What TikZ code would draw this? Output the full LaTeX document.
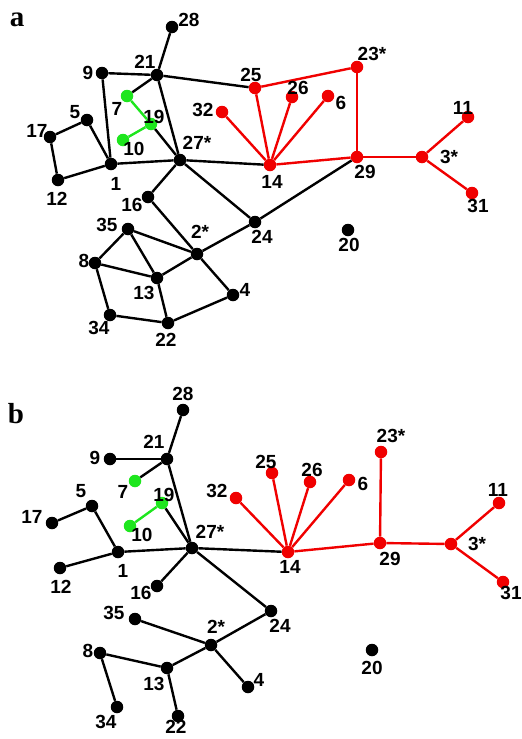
\documentclass[tikz,border=0pt]{standalone}
\usepackage{fontspec}
\setmainfont{Liberation Sans}
\newfontfamily\panelfont{Liberation Serif}
\definecolor{nodered}{RGB}{240,0,0}
\definecolor{nodegreen}{RGB}{30,230,30}
\tikzset{
  dot/.style={circle,fill=black,inner sep=0pt,minimum size=12.5pt},
  rdot/.style={dot,fill=nodered},
  gdot/.style={dot,fill=nodegreen},
  lbl/.style={inner sep=0pt,font=\fontsize{19}{19}\selectfont\bfseries},
  plbl/.style={inner sep=0pt,font=\panelfont\fontsize{29}{29}\selectfont\bfseries},
  bl/.style={draw=black,line width=2.4pt},
  rl/.style={draw=nodered,line width=2.4pt},
  gl/.style={draw=nodegreen,line width=2.4pt}
}
\begin{document}
\begin{tikzpicture}[x=1pt,y=-1pt]
\useasboundingbox (0,0) rectangle (522,739);
% ---------------- panel a ----------------
\node[plbl] (pa) at (17,20) {a};
\node[dot] (a28) at (172,27) {};
\node[dot] (a21) at (157,75) {};
\node[dot] (a9) at (102,73) {};
\node[gdot] (a7) at (127,96) {};
\node[gdot] (a19) at (151,124) {};
\node[gdot] (a10) at (123,140) {};
\node[dot] (a5) at (87,120) {};
\node[dot] (a17) at (50,137) {};
\node[dot] (a12) at (58,180) {};
\node[dot] (a1) at (111,164) {};
\node[dot] (a27) at (180,160) {};
\node[dot] (a16) at (148,197) {};
\node[dot] (a35) at (128,229) {};
\node[dot] (a8) at (95,263) {};
\node[dot] (a13) at (157,278) {};
\node[dot] (a2) at (197,254) {};
\node[dot] (a24) at (255,222) {};
\node[dot] (a4) at (233,295) {};
\node[dot] (a34) at (110,315) {};
\node[dot] (a22) at (168,323) {};
\node[dot] (a20) at (348,230) {};
\node[rdot] (a14) at (270,165) {};
\node[rdot] (a25) at (255,88) {};
\node[rdot] (a26) at (292,97) {};
\node[rdot] (a6) at (328,96) {};
\node[rdot] (a32) at (222,112) {};
\node[rdot] (a23) at (357,67) {};
\node[rdot] (a29) at (357,157) {};
\node[rdot] (a3) at (422,157) {};
\node[rdot] (a11) at (468,117) {};
\node[rdot] (a31) at (472,193) {};
% edges a
\draw[bl] (a28) -- (a21);
\draw[bl] (a21) -- (a9);
\draw[bl] (a21) -- (a7);
\draw[bl] (a21) -- (a27);
\draw[bl] (a21) -- (a25);
\draw[bl] (a9) -- (a1);
\draw[bl] (a19) -- (a27);
\draw[gl] (a7) -- (a19);
\draw[gl] (a19) -- (a10);
\draw[bl] (a5) -- (a17);
\draw[bl] (a17) -- (a12);
\draw[bl] (a12) -- (a1);
\draw[bl] (a1) -- (a5);
\draw[bl] (a1) -- (a27);
\draw[bl] (a27) -- (a14);
\draw[bl] (a27) -- (a16);
\draw[bl] (a27) -- (a24);
\draw[bl] (a16) -- (a2);
\draw[bl] (a2) -- (a24);
\draw[bl] (a24) -- (a29);
\draw[bl] (a2) -- (a35);
\draw[bl] (a2) -- (a13);
\draw[bl] (a2) -- (a4);
\draw[bl] (a35) -- (a8);
\draw[bl] (a35) -- (a13);
\draw[bl] (a8) -- (a13);
\draw[bl] (a8) -- (a34);
\draw[bl] (a34) -- (a22);
\draw[bl] (a22) -- (a13);
\draw[bl] (a22) -- (a4);
\draw[rl] (a25) -- (a23);
\draw[rl] (a23) -- (a29);
\draw[rl] (a14) -- (a25);
\draw[rl] (a14) -- (a26);
\draw[rl] (a14) -- (a6);
\draw[rl] (a14) -- (a32);
\draw[rl] (a14) -- (a29);
\draw[rl] (a29) -- (a3);
\draw[rl] (a3) -- (a11);
\draw[rl] (a3) -- (a31);
% labels a
\node[lbl] (la28) at (189,20) {28};
\node[lbl] (la21) at (145,62) {21};
\node[lbl] (la9) at (88,73) {9};
\node[lbl] (la7) at (117,109) {7};
\node[lbl] (la19) at (154,117) {19};
\node[lbl] (la10) at (134,149) {10};
\node[lbl] (la5) at (75,112) {5};
\node[lbl] (la17) at (37,131) {17};
\node[lbl] (la1) at (116,184) {1};
\node[lbl] (la12) at (57,199) {12};
\node[lbl] (la27) at (197,143) {27*};
\node[lbl] (la16) at (132,205) {16};
\node[lbl] (la35) at (107,225) {35};
\node[lbl] (la8) at (84,261) {8};
\node[lbl] (la13) at (144,293) {13};
\node[lbl] (la2) at (200,232) {2*};
\node[lbl] (la24) at (262,237) {24};
\node[lbl] (la4) at (245,290) {4};
\node[lbl] (la34) at (99,328) {34};
\node[lbl] (la22) at (166,340) {22};
\node[lbl] (la20) at (349,245) {20};
\node[lbl] (la14) at (272,182) {14};
\node[lbl] (la25) at (251,75) {25};
\node[lbl] (la26) at (298,88) {26};
\node[lbl] (la6) at (341,103) {6};
\node[lbl] (la32) at (203,110) {32};
\node[lbl] (la23) at (372,54) {23*};
\node[lbl] (la29) at (365,172) {29};
\node[lbl] (la3) at (449,157) {3*};
\node[lbl] (la11) at (463,108) {11};
\node[lbl] (la31) at (478,206) {31};
% ---------------- panel b ----------------
\node[plbl] (pb) at (16,414) {b};
\node[dot] (b28) at (183,410) {};
\node[dot] (b21) at (167,459) {};
\node[dot] (b9) at (110,459) {};
\node[gdot] (b7) at (135,481) {};
\node[gdot] (b19) at (162,503) {};
\node[gdot] (b10) at (130,526) {};
\node[dot] (b5) at (92,506) {};
\node[dot] (b17) at (52,523) {};
\node[dot] (b12) at (60,568) {};
\node[dot] (b1) at (118,552) {};
\node[dot] (b27) at (192,548) {};
\node[dot] (b16) at (157,586) {};
\node[dot] (b35) at (135,619) {};
\node[dot] (b8) at (100,653) {};
\node[dot] (b13) at (167,668) {};
\node[dot] (b2) at (211,645) {};
\node[dot] (b24) at (271,611) {};
\node[dot] (b4) at (248,687) {};
\node[dot] (b34) at (117,707) {};
\node[dot] (b22) at (178,716) {};
\node[dot] (b20) at (372,650) {};
\node[rdot] (b14) at (288,552) {};
\node[rdot] (b32) at (236,498) {};
\node[rdot] (b25) at (272,473) {};
\node[rdot] (b26) at (310,482) {};
\node[rdot] (b6) at (349,480) {};
\node[rdot] (b23) at (381,452) {};
\node[rdot] (b29) at (380,543) {};
\node[rdot] (b3) at (451,544) {};
\node[rdot] (b11) at (499,503) {};
\node[rdot] (b31) at (503,582) {};
% edges b
\draw[bl] (b28) -- (b21);
\draw[bl] (b21) -- (b9);
\draw[bl] (b21) -- (b7);
\draw[bl] (b21) -- (b27);
\draw[gl] (b19) -- (b10);
\draw[bl] (b19) -- (b27);
\draw[bl] (b5) -- (b17);
\draw[bl] (b5) -- (b1);
\draw[bl] (b1) -- (b12);
\draw[bl] (b1) -- (b27);
\draw[bl] (b27) -- (b14);
\draw[bl] (b27) -- (b16);
\draw[bl] (b27) -- (b24);
\draw[bl] (b24) -- (b2);
\draw[bl] (b2) -- (b35);
\draw[bl] (b2) -- (b13);
\draw[bl] (b2) -- (b4);
\draw[bl] (b8) -- (b13);
\draw[bl] (b8) -- (b34);
\draw[bl] (b13) -- (b22);
\draw[rl] (b14) -- (b32);
\draw[rl] (b14) -- (b25);
\draw[rl] (b14) -- (b26);
\draw[rl] (b14) -- (b6);
\draw[rl] (b14) -- (b29);
\draw[rl] (b29) -- (b23);
\draw[rl] (b29) -- (b3);
\draw[rl] (b3) -- (b11);
\draw[rl] (b3) -- (b31);
% labels b
\node[lbl] (lb28) at (183,394) {28};
\node[lbl] (lb21) at (154,442) {21};
\node[lbl] (lb9) at (95,458) {9};
\node[lbl] (lb7) at (123,492) {7};
\node[lbl] (lb19) at (164,495) {19};
\node[lbl] (lb10) at (142,535) {10};
\node[lbl] (lb5) at (81,491) {5};
\node[lbl] (lb17) at (32,517) {17};
\node[lbl] (lb1) at (123,571) {1};
\node[lbl] (lb12) at (61,587) {12};
\node[lbl] (lb27) at (210,532) {27*};
\node[lbl] (lb16) at (141,593) {16};
\node[lbl] (lb35) at (114,613) {35};
\node[lbl] (lb8) at (88,651) {8};
\node[lbl] (lb13) at (154,684) {13};
\node[lbl] (lb2) at (216,627) {2*};
\node[lbl] (lb24) at (280,626) {24};
\node[lbl] (lb4) at (259,680) {4};
\node[lbl] (lb34) at (106,722) {34};
\node[lbl] (lb22) at (176,727) {22};
\node[lbl] (lb20) at (372,668) {20};
\node[lbl] (lb14) at (290,567) {14};
\node[lbl] (lb32) at (217,491) {32};
\node[lbl] (lb25) at (266,462) {25};
\node[lbl] (lb26) at (312,470) {26};
\node[lbl] (lb6) at (363,484) {6};
\node[lbl] (lb23) at (391,436) {23*};
\node[lbl] (lb29) at (390,559) {29};
\node[lbl] (lb3) at (477,544) {3*};
\node[lbl] (lb11) at (498,490) {11};
\node[lbl] (lb31) at (511,593) {31};
\end{tikzpicture}
\end{document}
